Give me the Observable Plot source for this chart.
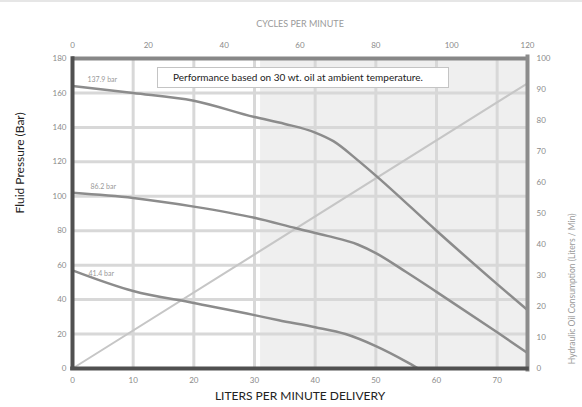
<!DOCTYPE html>
<html><head><meta charset="utf-8">
<script src="https://cdn.jsdelivr.net/npm/d3@7"></script>
<script src="https://cdn.jsdelivr.net/npm/@observablehq/plot@0.6"></script>
<style>
html,body{margin:0;padding:0;background:#fff;}
#wrap{position:relative;width:582px;height:407px;overflow:hidden;font-family:Lato,"Noto Sans",sans-serif;}
#topband{position:absolute;left:0;top:0;width:582px;height:2px;background:#e6e6e6;}
#note{position:absolute;left:157px;top:67px;width:275px;height:19px;padding-left:15px;border:1px solid #c4c4c4;background:#fff;font-size:10px;line-height:19px;color:#222;white-space:nowrap;}
svg text{font-family:Lato,"Noto Sans",sans-serif;}
</style></head>
<body><div id="wrap"><div id="topband"></div></div>
<script>
// ---- data ----
const topFlow  = [0, 10, 20, 30, 35, 40, 43, 47, 50, 60, 70, 75];
const topBar   = [164, 160, 155.5, 146, 142, 137, 132, 121, 112, 80, 49, 34];
const midFlow  = [0, 10, 20, 30, 37, 42, 47, 50, 55, 60, 70, 75];
const midBar   = [102, 99, 94, 87.5, 81.3, 77, 72, 67, 56, 44.5, 21, 9];
const lowFlow  = [0, 10, 20, 30, 34, 40, 45, 50, 55, 57];
const lowBar   = [57, 45, 38, 31, 28, 24, 20, 13, 4, 0];
const oilFlow  = [0, 75];
const oilLpm   = [0, 92];
const curveNames = ["137.9 bar", "86.2 bar", "41.4 bar"];
const shadedFlow = [31, 75];
const flowTicks  = [0, 10, 20, 30, 40, 50, 60, 70];
const cycleTicks = [0, 20, 40, 60, 80, 100, 120];
const barTicks   = [0, 20, 40, 60, 80, 100, 120, 140, 160, 180];
const oilTicks   = [0, 10, 20, 30, 40, 50, 60, 70, 80, 90, 100];
const gridFlow   = [10, 20, 30, 40, 50, 60, 70];
const gridBar    = [20, 40, 60, 80, 100, 120, 140, 160];
const noteText   = "Performance based on 30 wt. oil at ambient temperature.";
const cyclesPerLiter = 1.6;      // top axis: 120 cycles ↔ 75 l/min
const oilToBar = 180 / 100;      // right axis 0–100 ↔ left axis 0–180

const toRows = (xs, ys) => xs.map((x, i) => ({x, y: ys[i]}));
const series = [toRows(topFlow, topBar), toRows(midFlow, midBar), toRows(lowFlow, lowBar)];
const oil = toRows(oilFlow, oilLpm).map(d => ({x: d.x, y: d.y * oilToBar}));
const labelRows = series.map((s, i) => ({x: s[0].x, y: s[0].y, text: curveNames[i]}));
const labelDy = [-6, -6, 3];
const labelDx = [15, 18, 16];

const tickStyle = {fontSize: 8, fill: "#8a8a8a", tickSize: 0, label: null};
const curveStroke = "#8c8c8c";

const chart = Plot.plot({
  width: 582, height: 407,
  marginLeft: 72, marginRight: 55, marginTop: 58, marginBottom: 39,
  style: {background: "transparent", fontFamily: "Lato, 'Noto Sans', sans-serif"},
  x: {domain: [0, 75]},
  y: {domain: [0, 180]},
  marks: [
    Plot.rect([shadedFlow], {x1: d => d[0], x2: d => d[1], y1: () => 0, y2: () => 180, fill: "#efefef"}),
    Plot.ruleX(gridFlow, {stroke: "#d8d8d8", strokeWidth: 3}),
    Plot.ruleY(gridBar, {stroke: "#d8d8d8", strokeWidth: 3}),
    Plot.line(oil, {x: "x", y: "y", stroke: "#c6c6c6", strokeWidth: 2}),
    ...series.map(s => Plot.line(s, {x: "x", y: "y", stroke: curveStroke, strokeWidth: 2.5, curve: "monotone-x"})),
    ...labelRows.map((d, i) => Plot.text([d], {x: "x", y: "y", text: "text", textAnchor: "start", dx: labelDx[i], dy: labelDy[i], fontSize: 7, fill: "#999"})),
    Plot.ruleY([180], {stroke: "#878787", strokeWidth: 4}),
    Plot.ruleX([75], {stroke: "#8c8c8c", strokeWidth: 4, y1: () => -2, y2: () => 182}),
    Plot.ruleX([0], {stroke: "#505050", strokeWidth: 4, y1: () => -1.2, y2: () => 181}),
    Plot.ruleY([0], {stroke: "#505050", strokeWidth: 4, x1: () => -0.3, x2: () => 75.3}),
    Plot.axisX(flowTicks, {...tickStyle, anchor: "bottom", tickPadding: 9}),
    Plot.axisX(cycleTicks.map(c => c / cyclesPerLiter), {...tickStyle, anchor: "top", tickPadding: 11, tickFormat: d => Math.round(d * cyclesPerLiter)}),
    Plot.axisY(barTicks, {...tickStyle, anchor: "left", tickPadding: 6}),
    Plot.axisY(oilTicks.map(v => v * oilToBar), {...tickStyle, anchor: "right", tickPadding: 9, tickFormat: d => Math.round(d / oilToBar)}),
    Plot.text(["Fluid Pressure (Bar)"], {frameAnchor: "left", rotate: -90, dx: -52, fontSize: 12, fill: "#222"}),
    Plot.text(["LITERS PER MINUTE DELIVERY"], {frameAnchor: "bottom", dy: 31, fontSize: 12, fill: "#222"}),
    Plot.text(["CYCLES PER MINUTE"], {frameAnchor: "top", dy: -38, fontSize: 9, fill: "#9a9a9a"}),
    Plot.text(["Hydraulic Oil Consumption (Liters / Min)"], {frameAnchor: "right", rotate: -90, dx: 45, fontSize: 8.5, fill: "#9a9a9a"})
  ]
});
const wrap = document.getElementById("wrap");
wrap.insertBefore(chart, wrap.firstChild);
const note = document.createElement("div");
note.id = "note";
note.textContent = noteText;
wrap.appendChild(note);
</script>
</body></html>
